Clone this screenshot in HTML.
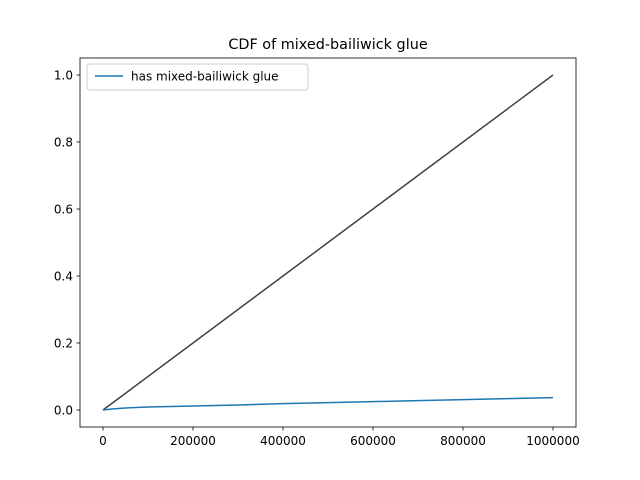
<!DOCTYPE html>
<html><head><meta charset="utf-8"><style>body{margin:0;background:#fff}svg{display:block}text{font-family:"DejaVu Sans","Liberation Sans",sans-serif;fill:#000}</style></head>
<body>
<svg id="chart" width="640" height="480">
<rect x="0" y="0" width="640" height="480" fill="#fff"/>
<text x="328" y="49" font-size="14.4" text-anchor="middle">CDF of mixed-bailiwick glue</text>
<g id="plot"></g>
<rect x="80" y="58" width="496" height="369" fill="none" stroke="#000" stroke-width="0.8"/>
<g>
<rect x="87" y="64" width="221" height="26" rx="3" fill="#fff" stroke="#ccc" stroke-width="1"/>
<line x1="95" y1="76" x2="123" y2="76" stroke="#1f77b4" stroke-width="1.5"/>
<text x="131" y="80.5" font-size="12">has mixed-bailiwick glue</text>
</g>
</svg>
<script>
const xTicks=[0,200000,400000,600000,800000,1000000];
const xTickLabels=["0","200000","400000","600000","800000","1000000"];
const yTicks=[0,0.2,0.4,0.6,0.8,1.0];
const yTickLabels=["0.0","0.2","0.4","0.6","0.8","1.0"];
const refX=[0,1000000];
const refY=[0,1];
const blueX=[0,20000,50000,100000,200000,300000,400000,500000,600000,700000,800000,900000,1000000];
const blueY=[0,0.003,0.006,0.009,0.012,0.015,0.019,0.022,0.025,0.028,0.031,0.034,0.037];
const sx=v=>103+v*(553-103)/1000000;
const sy=v=>410-v*(410-75);
const NS="http://www.w3.org/2000/svg";
const g=document.getElementById('plot');
function mk(t,a){const e=document.createElementNS(NS,t);for(const k in a)e.setAttribute(k,a[k]);g.appendChild(e);return e;}
xTicks.forEach((v,i)=>{
 const l=mk('line',{x1:sx(v),x2:sx(v),y1:427,y2:430.5,stroke:'#000','stroke-width':0.8});
 
 
 const t=mk('text',{x:sx(v),y:445,'font-size':12,'text-anchor':'middle'});
 t.textContent=xTickLabels[i];
 
 
});
yTicks.forEach((v,i)=>{
 const l=mk('line',{x1:76.5,x2:80,y1:sy(v),y2:sy(v),stroke:'#000','stroke-width':0.8});
 
 
 const t=mk('text',{x:73,y:sy(v)+4.5,'font-size':12,'text-anchor':'end'});
 t.textContent=yTickLabels[i];
 
 
});
const ref=mk('polyline',{points:refX.map((x,i)=>sx(x)+','+sy(refY[i])).join(' '),fill:'none',stroke:'#404040','stroke-width':1.5});


const bl=mk('polyline',{points:blueX.map((x,i)=>sx(x)+','+sy(blueY[i])).join(' '),fill:'none',stroke:'#1f77b4','stroke-width':1.5});


</script>
</body></html>
